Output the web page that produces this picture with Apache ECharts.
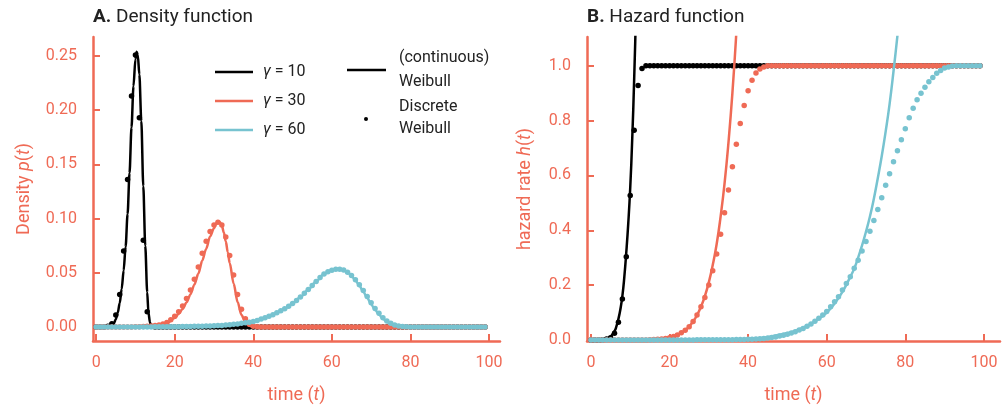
<!DOCTYPE html>
<html>
<head>
<meta charset="utf-8">
<script src="https://cdn.jsdelivr.net/npm/echarts@6/dist/echarts.min.js"></script>
<style>
  html, body { margin: 0; padding: 0; background: #fff; }
  #chart { width: 1003px; height: 409px; }
</style>
</head>
<body>
<div id="chart"></div>
<script>
// time steps of the discrete Weibull (t = 0 .. 99)
const tSteps = [
  0, 1, 2, 3, 4, 5, 6, 7, 8, 9, 10, 11, 12, 13, 14, 15, 16, 17, 18, 19,
  20, 21, 22, 23, 24, 25, 26, 27, 28, 29, 30, 31, 32, 33, 34, 35, 36, 37, 38, 39,
  40, 41, 42, 43, 44, 45, 46, 47, 48, 49, 50, 51, 52, 53, 54, 55, 56, 57, 58, 59,
  60, 61, 62, 63, 64, 65, 66, 67, 68, 69, 70, 71, 72, 73, 74, 75, 76, 77, 78, 79,
  80, 81, 82, 83, 84, 85, 86, 87, 88, 89, 90, 91, 92, 93, 94, 95, 96, 97, 98, 99
]

// discrete density p(t)
const dens10 = [
  0, 0, 0, 0.0005, 0.003, 0.011, 0.030, 0.070, 0.136, 0.213,
  0.251, 0.193, 0.080, 0.014, 0.0005, 0, 0, 0, 0, 0,
  0, 0, 0, 0, 0, 0, 0, 0, 0, 0, 0, 0, 0, 0, 0, 0, 0, 0, 0, 0,
  0, 0, 0, 0, 0, 0, 0, 0, 0, 0, 0, 0, 0, 0, 0, 0, 0, 0, 0, 0,
  0, 0, 0, 0, 0, 0, 0, 0, 0, 0, 0, 0, 0, 0, 0, 0, 0, 0, 0, 0,
  0, 0, 0, 0, 0, 0, 0, 0, 0, 0, 0, 0, 0, 0, 0, 0, 0, 0, 0, 0
]
const dens30 = [
  0, 0, 0, 0, 0, 0, 0, 0, 0, 0,
  0.0001, 0.0002, 0.0003, 0.0005, 0.0008, 0.0012, 0.0018, 0.0027, 0.004, 0.0065,
  0.0098, 0.014, 0.0192, 0.0262, 0.034, 0.044, 0.0553, 0.068, 0.079, 0.088,
  0.094, 0.0965, 0.094, 0.083, 0.066, 0.048, 0.030, 0.0162, 0.0075, 0.0025,
  0.0007, 0.0001, 0, 0, 0, 0, 0, 0, 0, 0,
  0, 0, 0, 0, 0, 0, 0, 0, 0, 0, 0, 0, 0, 0, 0, 0, 0, 0, 0, 0,
  0, 0, 0, 0, 0, 0, 0, 0, 0, 0, 0, 0, 0, 0, 0, 0, 0, 0, 0, 0,
  0, 0, 0, 0, 0, 0, 0, 0, 0, 0
]
const dens60 = [
  0, 0, 0, 0, 0, 0, 0, 0, 0, 0,
  0, 0, 0, 0, 0, 0.0001, 0.0001, 0.0001, 0.0001, 0.0001,
  0.0002, 0.0002, 0.0003, 0.0003, 0.0004, 0.0005, 0.0006, 0.0007, 0.0008, 0.0009,
  0.001, 0.0012, 0.0014, 0.0017, 0.002, 0.0024, 0.0028, 0.0033, 0.0038, 0.0044,
  0.005, 0.006, 0.0072, 0.0085, 0.0098, 0.0113, 0.013, 0.0148, 0.0168, 0.019,
  0.0215, 0.0244, 0.0275, 0.031, 0.0345, 0.0383, 0.042, 0.0455, 0.0488, 0.0508,
  0.0522, 0.0531, 0.0533, 0.0525, 0.0505, 0.0475, 0.0435, 0.039, 0.0335, 0.028,
  0.0222, 0.017, 0.0125, 0.0085, 0.0055, 0.0033, 0.0018, 0.0009, 0.0004, 0.0001,
  0, 0, 0, 0, 0, 0, 0, 0, 0, 0,
  0, 0, 0, 0, 0, 0, 0, 0, 0, 0
]

// continuous density (t, p) points along each curve
const tCont10 = [0, 3, 3.5, 4, 4.5, 5, 5.5, 6, 6.5, 7, 7.5, 8, 8.5, 9, 9.5, 10, 10.3, 10.6, 11, 11.5, 12, 12.5, 13, 13.3, 13.7, 14.1, 99]
const pCont10 = [0, 0, 0.0003, 0.001, 0.003, 0.007, 0.013, 0.022, 0.035, 0.052, 0.074, 0.104, 0.142, 0.184, 0.222, 0.247, 0.254, 0.251, 0.233, 0.19, 0.13, 0.075, 0.032, 0.0136, 0.004, 0, 0]
const tCont30 = [0, 10, 14, 16, 18, 20, 21, 22, 23, 24, 25, 26, 27, 28, 29, 30, 30.5, 31, 31.5, 32, 32.5, 33, 33.5, 34, 35, 36, 37, 38, 39, 40, 41, 99]
const pCont30 = [0, 0, 0.0007, 0.0015, 0.0033, 0.0082, 0.012, 0.0165, 0.0225, 0.030, 0.039, 0.049, 0.061, 0.072, 0.0835, 0.091, 0.095, 0.0972, 0.0968, 0.0935, 0.087, 0.079, 0.069, 0.059, 0.040, 0.023, 0.011, 0.0042, 0.001, 0.0001, 0, 0]
const tCont60 = [0, 10, 20, 25, 30, 34, 38, 40, 42, 44, 46, 48, 50, 52, 54, 56, 58, 60, 61, 62, 63, 64, 65, 66, 67, 68, 69, 70, 71, 72, 73, 74, 75, 76, 77, 78, 80, 99]
const pCont60 = [0, 0.00005, 0.0002, 0.0005, 0.001, 0.002, 0.0038, 0.005, 0.0072, 0.0098, 0.013, 0.0168, 0.0215, 0.0275, 0.0345, 0.042, 0.0488, 0.0524, 0.0533, 0.0535, 0.0527, 0.0505, 0.0472, 0.043, 0.038, 0.0325, 0.0268, 0.021, 0.0158, 0.0113, 0.0075, 0.0046, 0.0026, 0.0013, 0.0006, 0.0002, 0, 0]

// discrete hazard h(t)
const haz10 = [
  0, 0, 0, 0.0005, 0.003, 0.008, 0.024, 0.064, 0.149, 0.303,
  0.527, 0.765, 0.928, 0.99, 1, 1, 1, 1, 1, 1,
  1, 1, 1, 1, 1, 1, 1, 1, 1, 1, 1, 1, 1, 1, 1, 1, 1, 1, 1, 1,
  1, 1, 1, 1, 1, 1, 1, 1, 1, 1, 1, 1, 1, 1, 1, 1, 1, 1, 1, 1,
  1, 1, 1, 1, 1, 1, 1, 1, 1, 1, 1, 1, 1, 1, 1, 1, 1, 1, 1, 1,
  1, 1, 1, 1, 1, 1, 1, 1, 1, 1, 1, 1, 1, 1, 1, 1, 1, 1, 1, 1
]
const haz30 = [
  0, 0, 0, 0, 0, 0, 0, 0, 0, 0,
  0, 0, 0, 0, 0, 0.001, 0.0015, 0.002, 0.003, 0.005,
  0.008, 0.012, 0.018, 0.026, 0.035, 0.048, 0.067, 0.091, 0.121, 0.155,
  0.200, 0.252, 0.313, 0.385, 0.464, 0.547, 0.632, 0.714, 0.789, 0.855,
  0.909, 0.947, 0.974, 0.988, 0.996, 1, 1, 1, 1, 1,
  1, 1, 1, 1, 1, 1, 1, 1, 1, 1, 1, 1, 1, 1, 1, 1, 1, 1, 1, 1,
  1, 1, 1, 1, 1, 1, 1, 1, 1, 1, 1, 1, 1, 1, 1, 1, 1, 1, 1, 1,
  1, 1, 1, 1, 1, 1, 1, 1, 1, 1
]
const haz60 = [
  0, 0, 0, 0, 0, 0, 0, 0, 0, 0,
  0, 0, 0, 0, 0, 0, 0, 0, 0, 0,
  0, 0, 0, 0, 0, 0.0001, 0.0001, 0.0002, 0.0002, 0.0003,
  0.0003, 0.0004, 0.0005, 0.0006, 0.0007, 0.0008, 0.001, 0.0012, 0.0014, 0.0017,
  0.002, 0.0024, 0.003, 0.004, 0.0055, 0.007, 0.009, 0.011, 0.014, 0.017,
  0.021, 0.025, 0.030, 0.036, 0.042, 0.050, 0.058, 0.068, 0.079, 0.091,
  0.104, 0.121, 0.139, 0.157, 0.182, 0.206, 0.230, 0.261, 0.291, 0.324,
  0.359, 0.396, 0.436, 0.476, 0.519, 0.564, 0.606, 0.650, 0.690, 0.730,
  0.770, 0.810, 0.845, 0.876, 0.900, 0.922, 0.942, 0.957, 0.973, 0.983,
  0.992, 0.996, 0.999, 1, 1, 1, 1, 1, 1, 1
]

// continuous hazard (t, h) points
const tHc10 = [0, 3, 4, 5, 6, 6.5, 7, 7.5, 8, 8.5, 9, 9.5, 10, 10.5, 11, 11.5, 12]
const hHc10 = [0, 0.001, 0.004, 0.012, 0.032, 0.05, 0.077, 0.112, 0.16, 0.23, 0.32, 0.425, 0.555, 0.73, 0.95, 1.22, 1.55]
const tHc30 = [0, 15, 18, 20, 22, 24, 25, 26, 27, 28, 29, 30, 31, 32, 33, 34, 35, 36, 37, 38]
const hHc30 = [0, 0.001, 0.0035, 0.0082, 0.0176, 0.035, 0.049, 0.067, 0.09, 0.121, 0.16, 0.21, 0.273, 0.35, 0.45, 0.57, 0.72, 0.90, 1.12, 1.38]
const tHc60 = [0, 30, 35, 40, 43, 45, 47, 50, 52, 54, 56, 58, 60, 62, 64, 66, 67, 68, 69, 70, 71, 72, 73, 74, 75, 76, 77, 78, 79]
const hHc60 = [0, 0.0002, 0.001, 0.003, 0.006, 0.01, 0.016, 0.025, 0.033, 0.045, 0.059, 0.077, 0.1, 0.133, 0.175, 0.23, 0.26, 0.30, 0.345, 0.395, 0.45, 0.515, 0.59, 0.67, 0.76, 0.86, 0.98, 1.11, 1.25]

const xTicks = [0, 20, 40, 60, 80, 100]
const densTicks = [0, 0.05, 0.1, 0.15, 0.2, 0.25]
const hazTicks = [0, 0.2, 0.4, 0.6, 0.8, 1.0]

const colors = { g10: '#000000', g30: '#ef6a55', g60: '#77c3d0' }
const axisColor = '#ef6a55'
const FONT = 'Roboto'

const pairs = (xs, ys) => xs.map((x, i) => [x, ys[i]])

const xAxisFor = (gridIndex, min, max) => ({
  type: 'value',
  gridIndex,
  min,
  max,
  name: 'time ({i|t})',
  nameLocation: 'middle',
  nameGap: 45,
  nameTextStyle: {
    color: axisColor, fontSize: 18, fontFamily: FONT,
    rich: { i: { fontStyle: 'italic', color: axisColor, fontSize: 18, fontFamily: FONT } },
  },
  axisLine: { show: true, onZero: false, lineStyle: { color: axisColor, width: 2.5 } },
  axisTick: { show: true, inside: true, length: 7, customValues: xTicks, lineStyle: { color: axisColor, width: 2 } },
  axisLabel: { customValues: xTicks, color: axisColor, fontSize: 16, fontFamily: FONT, margin: 14 },
  splitLine: { show: false },
})

const yAxisFor = (gridIndex, min, max, ticks, digits, name, nameGap) => ({
  type: 'value',
  gridIndex,
  min,
  max,
  name,
  nameLocation: 'middle',
  nameGap,
  nameRotate: 90,
  nameTextStyle: {
    color: axisColor, fontSize: 18, fontFamily: FONT,
    rich: { i: { fontStyle: 'italic', color: axisColor, fontSize: 18, fontFamily: FONT } },
  },
  axisLine: { show: true, onZero: false, lineStyle: { color: axisColor, width: 2.5 } },
  axisTick: { show: true, inside: true, length: 7, customValues: ticks, lineStyle: { color: axisColor, width: 2 } },
  axisLabel: {
    customValues: ticks, color: axisColor, fontSize: 16, fontFamily: FONT, margin: 16,
    formatter: v => v.toFixed(digits),
  },
  splitLine: { show: false },
})

const lineSeries = (idx, data, color, z, monotone) => ({
  type: 'line',
  xAxisIndex: idx,
  yAxisIndex: idx,
  data,
  showSymbol: false,
  smooth: monotone ? 0.3 : 0.5,
  smoothMonotone: monotone ? 'x' : undefined,
  clip: true,
  z,
  lineStyle: { color, width: 2.5 },
  emphasis: { disabled: true },
  animation: false,
})

const dotSeries = (idx, values, color, z) => ({
  type: 'scatter',
  xAxisIndex: idx,
  yAxisIndex: idx,
  data: pairs(tSteps, values),
  symbolSize: 5.5,
  z,
  itemStyle: { color, opacity: 1 },
  emphasis: { disabled: true },
  animation: false,
})

const legendText = (x, y, text) => ({
  type: 'text',
  x, y,
  style: {
    text, fill: '#222', fontSize: 16, fontFamily: FONT, verticalAlign: 'middle',
    rich: { i: { fontStyle: 'italic', fill: '#222', fontSize: 16, fontFamily: FONT } },
  },
})
const legendLine = (x1, x2, y, color) => ({
  type: 'line',
  shape: { x1, y1: y, x2, y2: y },
  style: { stroke: color, lineWidth: 2.5 },
})
const titleText = (x, letter, text) => ({
  type: 'text',
  x, y: 17,
  style: {
    text: '{b|' + letter + '} ' + text,
    fill: '#222', fontSize: 19, fontFamily: FONT, verticalAlign: 'middle',
    rich: { b: { fontWeight: 'bold', fill: '#222', fontSize: 19, fontFamily: FONT } },
  },
})

const chart = echarts.init(document.getElementById('chart'))

const option = {
  backgroundColor: '#fff',
  animation: false,
  grid: [
    { left: 93, top: 37, width: 407, height: 304 },
    { left: 587, top: 37, width: 413, height: 305 },
  ],
  xAxis: [
    xAxisFor(0, -0.8, 102.8),
    xAxisFor(1, -1.0, 104.1),
  ],
  yAxis: [
    yAxisFor(0, -0.013, 0.2675, densTicks, 2, 'Density {i|p}({i|t})', 60),
    yAxisFor(1, -0.004, 1.105, hazTicks, 1, 'hazard rate {i|h}({i|t})', 53),
  ],
  series: [
    lineSeries(0, pairs(tCont10, pCont10), colors.g10, 2, true),
    dotSeries(0, dens10, colors.g10, 3),
    lineSeries(0, pairs(tCont30, pCont30), colors.g30, 4, true),
    dotSeries(0, dens30, colors.g30, 5),
    lineSeries(0, pairs(tCont60, pCont60), colors.g60, 6, true),
    dotSeries(0, dens60, colors.g60, 7),

    lineSeries(1, pairs(tHc10, hHc10), colors.g10, 2, false),
    dotSeries(1, haz10, colors.g10, 3),
    lineSeries(1, pairs(tHc30, hHc30), colors.g30, 4, false),
    dotSeries(1, haz30, colors.g30, 5),
    lineSeries(1, pairs(tHc60, hHc60), colors.g60, 6, false),
    dotSeries(1, haz60, colors.g60, 7),
  ],
  graphic: [
    titleText(93, 'A.', 'Density function'),
    titleText(587, 'B.', 'Hazard function'),
    // legend, panel A
    legendLine(215, 253, 72, colors.g10),
    legendLine(215, 253, 101, colors.g30),
    legendLine(215, 253, 130, colors.g60),
    legendText(263, 72, '{i|γ} = 10'),
    legendText(263, 101, '{i|γ} = 30'),
    legendText(263, 130, '{i|γ} = 60'),
    legendLine(347, 386, 70, '#000'),
    legendText(399, 58, '(continuous)'),
    legendText(399, 82, 'Weibull'),
    { type: 'circle', shape: { cx: 366, cy: 119, r: 2 }, style: { fill: '#000' } },
    legendText(399, 107, 'Discrete'),
    legendText(399, 129, 'Weibull'),
  ],
}

chart.setOption(option)
</script>
</body>
</html>
